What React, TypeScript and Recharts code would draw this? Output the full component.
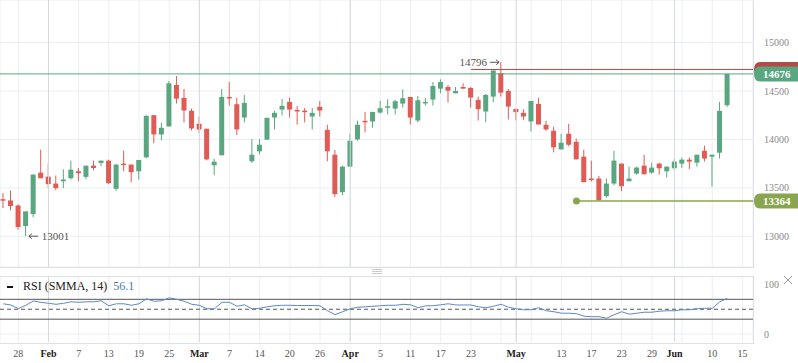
import React from 'react';
import {
  ComposedChart,
  Bar,
  Line,
  XAxis,
  YAxis,
  CartesianGrid,
  ReferenceLine,
  ReferenceDot,
} from 'recharts';

// daily candles
const opens = [
  13383, 13370, 13318, 13106, 13229, 13657, 13616, 13544, 13568, 13599, 13671, 13613, 13729, 13757, 13781, 13490,
  13750, 13740, 13671, 13815, 14250, 14051, 14134, 14562, 14428, 14295, 14161, 14110, 13733, 13836, 14438, 14363,
  14226, 13774, 13877, 13997, 14226, 14308, 14387, 14305, 14298, 14236, 14336, 14099, 13842, 13455, 13719, 14000,
  14192, 14185, 14277, 14339, 14318, 14370, 14438, 14195, 14380, 14411, 14524, 14541, 14476, 14541, 14531, 14408,
  14288, 14442, 14685, 14500, 14315, 14274, 14185, 14366, 14151, 14089, 13897, 14058, 13976, 13822, 13596, 13596,
  13414, 13544, 13750, 13568, 13647, 13729, 13657, 13750, 13671, 13702, 13750, 13791, 13760, 13883, 13822, 13863,
  14353,
];
const highs = [
  13445, 13473, 13329, 13257, 13637, 13894, 13753, 13627, 13692, 13781, 13705, 13729, 13781, 13781, 13791, 13747,
  13883, 13740, 13788, 14250, 14250, 14171, 14603, 14654, 14521, 14318, 14233, 14110, 13801, 14521, 14592, 14428,
  14459, 14003, 14003, 14223, 14295, 14418, 14432, 14346, 14325, 14325, 14397, 14151, 13890, 13729, 14058, 14192,
  14284, 14284, 14397, 14414, 14408, 14517, 14438, 14449, 14428, 14592, 14620, 14562, 14541, 14579, 14541, 14442,
  14469, 14712, 14796, 14521, 14315, 14312, 14397, 14428, 14192, 14130, 14058, 14161, 14007, 13894, 13781, 13623,
  13596, 13883, 13750, 13719, 13719, 13842, 13760, 13760, 13719, 13802, 13812, 13812, 13842, 13935, 13842, 14387,
  14676,
];
const lows = [
  13291, 13267, 13068, 13001, 13198, 13599, 13497, 13476, 13497, 13586, 13568, 13589, 13682, 13723, 13541, 13469,
  13671, 13558, 13586, 13805, 13959, 13990, 14134, 14370, 14175, 14092, 14068, 13784, 13630, 13836, 14349, 14044,
  14175, 13757, 13846, 13997, 14103, 14247, 14226, 14154, 14175, 14103, 14236, 13774, 13407, 13425, 13719, 13986,
  14072, 14120, 14267, 14257, 14257, 14329, 14154, 14175, 14349, 14349, 14476, 14380, 14476, 14524, 14329, 14195,
  14178, 14384, 14442, 14205, 14195, 14199, 14082, 14154, 14089, 13866, 13897, 13928, 13794, 13558, 13565, 13364,
  13400, 13527, 13466, 13568, 13637, 13640, 13647, 13637, 13606, 13678, 13705, 13695, 13719, 13771, 13514, 13802,
  14336,
];
const closes = [
  13373, 13312, 13096, 13257, 13637, 13599, 13538, 13497, 13586, 13688, 13651, 13729, 13705, 13781, 13548, 13740,
  13740, 13661, 13788, 14243, 14051, 14120, 14579, 14421, 14298, 14113, 14103, 13794, 13770, 14438, 14432, 14103,
  14377, 13842, 13945, 14223, 14274, 14346, 14308, 14288, 14281, 14274, 14298, 13877, 13435, 13719, 13986, 14151,
  14185, 14284, 14322, 14342, 14394, 14425, 14226, 14404, 14387, 14551, 14592, 14503, 14500, 14524, 14432, 14312,
  14459, 14712, 14483, 14339, 14281, 14236, 14397, 14154, 14103, 13918, 13966, 13945, 13794, 13558, 13589, 13372,
  13544, 13781, 13517, 13596, 13709, 13640, 13709, 13702, 13719, 13771, 13791, 13771, 13842, 13802, 13842, 14295,
  14676,
];
const rsi = [
  61, 58.6, 51.3, 58, 66.6, 64, 62, 60, 62, 65, 64, 65, 65, 67, 57, 61,
  61, 58, 61, 71, 66, 67, 73, 70, 66, 60, 58, 51, 51, 64, 64, 56,
  59, 50.6, 52, 55, 57, 58, 58, 57.5, 57.5, 57.5, 57, 47, 39, 45, 51, 54,
  55, 56, 57, 58, 58, 60, 59, 53, 57, 57, 59, 61, 58.6, 58.6, 58.6, 55,
  53, 56, 60, 54, 51, 49, 49, 53, 47, 45, 42, 42, 41, 36, 35, 35,
  32, 39, 45, 40, 42, 44, 44, 46, 47, 47, 49, 49, 51, 52, 52, 65,
  72,
];

// x-axis: candle index of each grid line and its label ('' = line only)
const tickIdx = [2, 6, 10, 14, 18, 22, 26, 30, 34, 38, 42, 46, 50, 54, 58, 62, 66, 68, 70, 74, 78, 82, 86, 89, 90, 94, 98];
const tickText = ['28', 'Feb', '7', '13', '19', '25', 'Mar', '7', '14', '20', '26', 'Apr', '5', '11', '17', '23', '', 'May', '', '13', '17', '23', '29', 'Jun', '', '10', '15'];
const monthIdx = [6, 26, 46, 68, 89];

const priceTicks = [13000, 13500, 14000, 14500, 15000];
const lastPrice = 14676;
const redLevel = 14722;
const lowLevel = 13364;

const GREEN = '#59a680';
const RED = '#e15b55';
const OLIVE = '#89a64e';
const DARK_RED = '#b24b47';
const FONT = '"Liberation Serif", "Times New Roman", serif';
const X_DOMAIN: [number, number] = [-0.43, 99.4];

const rows = opens.map((open, i) => ({
  i,
  open,
  high: highs[i],
  low: lows[i],
  close: closes[i],
  range: [lows[i], highs[i]],
  rsi: rsi[i],
}));

function Candle(props: any) {
  const { x, y, width, height, payload } = props;
  if (!payload) return null;
  const top = Math.min(y, y + height);
  const h = Math.abs(height);
  const k = h / (payload.high - payload.low);
  const up = payload.close >= payload.open;
  const color = up ? GREEN : RED;
  const yO = top + (payload.high - payload.open) * k;
  const yC = top + (payload.high - payload.close) * k;
  const cx = x + width / 2;
  return (
    <g>
      <line x1={cx} x2={cx} y1={top} y2={top + h} stroke={color} strokeWidth={1} />
      <rect x={x} y={Math.min(yO, yC)} width={width} height={Math.max(1.5, Math.abs(yO - yC))} fill={color} />
    </g>
  );
}

function priceTag(text: string, fill: string) {
  return (p: any) => {
    const vb = p.viewBox;
    const x0 = vb.x + vb.width + 1;
    const yc = vb.y;
    const h = 15;
    const r = 6;
    const d = `M ${x0 + r} ${yc - h / 2} H 798 V ${yc + h / 2} H ${x0 + r} Q ${x0} ${yc + h / 2} ${x0} ${yc} Q ${x0} ${yc - h / 2} ${x0 + r} ${yc - h / 2} Z`;
    return (
      <g>
        <path d={d} fill={fill} />
        <text x={x0 + 9} y={yc} dy="0.35em" fill="#fff" fontWeight="bold" fontSize={11} fontFamily={FONT}>
          {text}
        </text>
      </g>
    );
  };
}

// small arrow drawn next to a marker label
function arrow(x1: number, x2: number, y: number) {
  const dir = x2 > x1 ? 1 : -1;
  return (
    <g stroke="#555" strokeWidth={1} fill="none">
      <line x1={x1} x2={x2} y1={y} y2={y} />
      <polyline points={`${x2 - dir * 3},${y - 2.5} ${x2},${y} ${x2 - dir * 3},${y + 2.5}`} />
    </g>
  );
}

function XTick(props: any) {
  const { x, y, payload } = props;
  const k = tickIdx.indexOf(payload.value);
  const label = k >= 0 ? tickText[k] : '';
  if (!label) return null;
  const month = monthIdx.includes(payload.value);
  return (
    <text
      x={x}
      y={y}
      dy="0.71em"
      textAnchor="middle"
      fontSize={10}
      fontFamily={FONT}
      fontWeight={month ? 'bold' : 'normal'}
      fill={month ? '#222' : '#555'}
    >
      {label}
    </text>
  );
}

const yTick = { fill: '#8a8a8a', fontSize: 10, fontFamily: FONT };

export default function App() {
  return (
    <div style={{ position: 'absolute', left: 0, top: 0, width: 798, height: 363, background: '#fff', fontFamily: FONT }}>
      <div style={{ position: 'absolute', left: 0, top: 0 }}>
        <ComposedChart width={798} height={268} data={rows} margin={{ top: 0, right: 0, bottom: 1, left: 0 }}>
          <CartesianGrid stroke="#eceef1" />
          <XAxis type="number" dataKey="i" domain={X_DOMAIN} ticks={tickIdx} allowDataOverflow hide />
          <YAxis
            orientation="right"
            domain={[12683, 15439]}
            ticks={priceTicks}
            allowDataOverflow
            width={45}
            axisLine={false}
            tickLine={false}
            tickSize={6}
            tickMargin={5}
            tick={yTick}
          />
          {monthIdx.map((m) => (
            <ReferenceLine key={m} x={m} stroke="#d6d9dd" />
          ))}
          <ReferenceLine
            segment={[{ x: 62, y: redLevel }, { x: X_DOMAIN[1], y: redLevel }]}
            stroke={DARK_RED}
            label={{ content: priceTag('', DARK_RED) } as any}
          />
          <ReferenceLine y={lastPrice} stroke={GREEN} label={{ content: priceTag(String(lastPrice), GREEN) } as any} />
          <ReferenceLine
            segment={[{ x: 76, y: lowLevel }, { x: X_DOMAIN[1], y: lowLevel }]}
            stroke={OLIVE}
            strokeWidth={1.5}
            label={{ content: priceTag(String(lowLevel), OLIVE) } as any}
          />
          <ReferenceDot x={76} y={lowLevel} r={3.5} fill={OLIVE} stroke="none" />
          <Bar dataKey="range" barSize={5} shape={Candle} isAnimationActive={false} />
          <ReferenceDot
            x={3}
            y={13001}
            r={0}
            shape={(p: any) => (
              <g>
                {arrow(p.cx + 12, p.cx + 3, p.cy)}
                <text x={p.cx + 16} y={p.cy} dy="0.35em" fontSize={11} fill="#555" fontFamily={FONT}>
                  13001
                </text>
              </g>
            )}
          />
          <ReferenceDot
            x={66}
            y={14796}
            r={0}
            shape={(p: any) => (
              <g>
                {arrow(p.cx - 11, p.cx - 2, p.cy)}
                <text x={p.cx - 14} y={p.cy} dy="0.35em" textAnchor="end" fontSize={11} fill="#555" fontFamily={FONT}>
                  14796
                </text>
              </g>
            )}
          />
        </ComposedChart>
      </div>
      <div style={{ position: 'absolute', left: 0, top: 0, width: 753, height: 267, borderRight: '1px solid #dcdfe3', borderBottom: '1px solid #dcdfe3', pointerEvents: 'none' }} />

      <svg style={{ position: 'absolute', left: 0, top: 0 }} width={798} height={363}>
        <line x1={372} x2={382} y1={269.5} y2={269.5} stroke="#ccc" />
        <line x1={372} x2={382} y1={271.5} y2={271.5} stroke="#ccc" />
        <line x1={372} x2={382} y1={273.5} y2={273.5} stroke="#ccc" />
        <line x1={784} x2={792} y1={276} y2={284} stroke="#999" />
        <line x1={792} x2={784} y1={276} y2={284} stroke="#999" />
      </svg>

      <div style={{ position: 'absolute', left: 0, top: 268 }}>
        <ComposedChart width={798} height={95} data={rows} margin={{ top: 8, right: 0, bottom: 0, left: 0 }}>
          <CartesianGrid stroke="#eceef1" horizontalValues={[0]} />
          <XAxis
            type="number"
            dataKey="i"
            domain={X_DOMAIN}
            ticks={tickIdx}
            interval={0}
            allowDataOverflow
            height={21}
            axisLine={false}
            tickLine={false}
            tick={<XTick />}
          />
          <YAxis
            orientation="right"
            domain={[-16, 117]}
            ticks={[0, 100]}
            allowDataOverflow
            width={45}
            axisLine={false}
            tickLine={false}
            tickSize={6}
            tickMargin={5}
            tick={yTick}
          />
          {monthIdx.map((m) => (
            <ReferenceLine key={m} x={m} stroke="#d6d9dd" />
          ))}
          <ReferenceLine y={70} stroke="#555" />
          <ReferenceLine y={50} stroke="#555" strokeDasharray="4 3" />
          <ReferenceLine y={30} stroke="#555" />
          <Line dataKey="rsi" stroke="#5d89c6" strokeWidth={1} dot={false} isAnimationActive={false} />
        </ComposedChart>
      </div>
      <div style={{ position: 'absolute', left: 0, top: 276, width: 753, height: 66, borderTop: '1px solid #dcdfe3', borderRight: '1px solid #dcdfe3', borderBottom: '1px solid #dcdfe3', pointerEvents: 'none' }} />

      <div style={{ position: 'absolute', left: 7, top: 279, height: 15, lineHeight: '15px', fontSize: 12, whiteSpace: 'nowrap', color: '#222' }}>
        <span style={{ display: 'inline-block', width: 6, height: 2, background: '#111', verticalAlign: 'middle', marginRight: 10 }} />
        RSI (SMMA, 14) <span style={{ color: '#4a78b5', marginLeft: 3 }}>56.1</span>
      </div>
    </div>
  );
}
